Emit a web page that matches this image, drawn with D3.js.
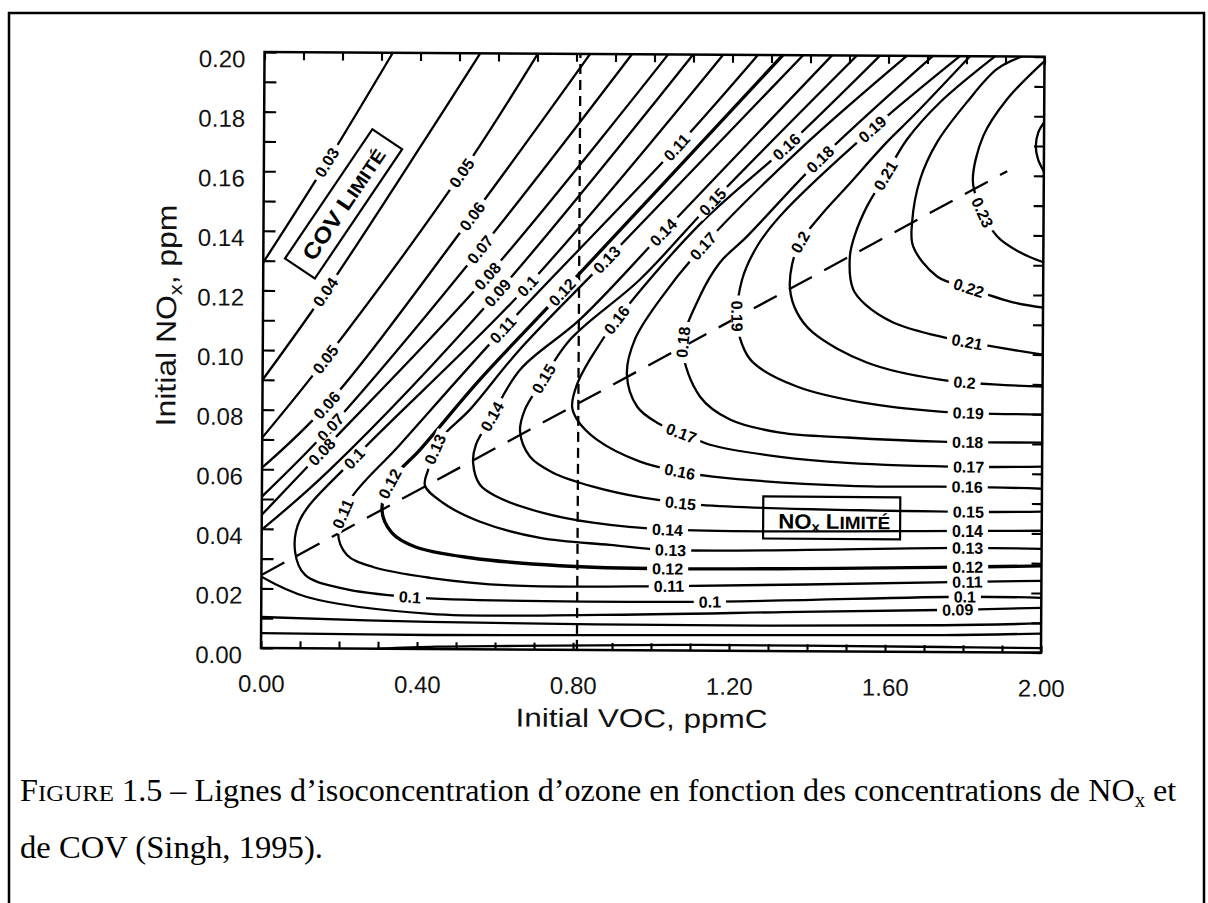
<!DOCTYPE html>
<html>
<head>
<meta charset="utf-8">
<script src="https://cdn.jsdelivr.net/npm/d3@7"></script>
<style>
  html, body { margin: 0; padding: 0; background: #fff; }
  svg { display: block; }
</style>
</head>
<body>
<svg id="fig" width="1208" height="903"></svg>
<script>
// ---- Axis tick labels ----
const vocLabelTicks = [0, 0.4, 0.8, 1.2, 1.6, 2.0];
const noxLabelTicks = [0, 0.02, 0.04, 0.06, 0.08, 0.10, 0.12, 0.14, 0.16, 0.18, 0.20];

// ---- Ozone isopleths: [initial VOC (ppmC), initial NOx (ppm)] ----
const iso003 = [[0,0.1294],[0.162,0.1632],[0.329,0.2]];
const iso004 = [[0,0.090],[0.159,0.1195],[0.418,0.172],[0.553,0.2]];
const iso005 = [[0,0.0706],[0.160,0.0969],[0.508,0.160],[0.701,0.2]];
const iso006 = [[0,0.0605],[0.166,0.0818],[0.535,0.1453],[0.835,0.2]];
const iso007 = [[0,0.0508],[0.174,0.0741],[0.556,0.1342],[0.942,0.2]];
const iso008 = [[0,0.0447],[0.153,0.066],[0.574,0.1251],[1.035,0.2]];
const iso009a = [[0,0.0397],[0.174,0.060],[0.602,0.1198],[1.099,0.2]];
const iso009b = [[0,0.0239],[0.117,0.0172],[0.433,0.0118],[0.869,0.0118],[1.382,0.0132],[1.741,0.0141],[2.0,0.0150]];
const iso010 = [[1.176,0.2],[0.677,0.1219],[0.233,0.0634],[0.098,0.0431],[0.086,0.0323],[0.112,0.0246],[0.2015,0.0203],[0.382,0.0174],[1.079,0.0163],[1.805,0.0186],[2.0,0.0184]];
const iso011 = [[1.265,0.2],[1.059,0.169],[0.616,0.1074],[0.353,0.0685],[0.226,0.0499],[0.196,0.0388],[0.219,0.0314],[0.286,0.0274],[0.432,0.0239],[0.637,0.0215],[1.055,0.0216],[1.81,0.0236],[2.0,0.0241]];
const iso012 = [[1.329,0.2],[0.766,0.1199],[0.557,0.0905],[0.405,0.0669],[0.333,0.0567],[0.308,0.0466],[0.334,0.0389],[0.393,0.0343],[0.535,0.0307],[0.765,0.0282],[1.040,0.0274],[1.81,0.0286],[2.0,0.0291]];
const iso013 = [[1.381,0.2],[0.881,0.1311],[0.659,0.1007],[0.532,0.0804],[0.456,0.0703],[0.426,0.0602],[0.418,0.0548],[0.464,0.0491],[0.560,0.0428],[0.714,0.0375],[0.893,0.0353],[1.047,0.0337],[1.81,0.035],[2.0,0.0348]];
const iso014 = [[1.455,0.2],[1.025,0.1403],[0.813,0.1109],[0.660,0.0939],[0.584,0.0771],[0.548,0.0687],[0.541,0.0626],[0.559,0.0552],[0.603,0.0512],[0.721,0.0459],[0.849,0.0427],[1.042,0.0405],[1.81,0.0407],[2.0,0.0409]];
const iso015 = [[1.519,0.2],[1.150,0.1505],[0.966,0.1244],[0.788,0.1041],[0.711,0.0889],[0.673,0.0805],[0.661,0.0731],[0.687,0.0647],[0.746,0.0594],[0.849,0.0548],[0.977,0.0512],[1.124,0.0489],[1.81,0.0471],[2.0,0.0473]];
const iso016 = [[1.578,0.2],[1.341,0.1694],[1.119,0.1431],[0.908,0.111],[0.839,0.0975],[0.806,0.089],[0.794,0.0816],[0.807,0.0773],[0.858,0.0706],[0.969,0.0633],[1.072,0.060],[1.156,0.0584],[1.508,0.0556],[1.81,0.0555],[2.0,0.055]];
const iso017 = [[1.647,0.2],[1.375,0.1685],[1.127,0.1357],[1.018,0.1178],[0.954,0.1043],[0.934,0.0925],[0.961,0.0817],[1.012,0.0764],[1.097,0.0718],[1.148,0.0691],[1.328,0.0652],[1.5,0.0633],[1.81,0.0622],[2.0,0.0624]];
const iso018 = [[1.714,0.2],[1.426,0.1651],[1.240,0.1391],[1.171,0.1303],[1.120,0.1189],[1.077,0.102],[1.122,0.0852],[1.199,0.0776],[1.328,0.0733],[1.499,0.0718],[1.738,0.0706],[2.0,0.0705]];
const iso019 = [[1.783,0.2],[1.559,0.1753],[1.324,0.1459],[1.266,0.1358],[1.228,0.1246],[1.216,0.1112],[1.229,0.1028],[1.257,0.0968],[1.370,0.0888],[1.540,0.0835],[1.737,0.0807],[2.0,0.0799]];
const iso020 = [[1.809,0.2],[1.664,0.1798],[1.597,0.171],[1.496,0.1561],[1.427,0.146],[1.376,0.1372],[1.356,0.1298],[1.351,0.1214],[1.369,0.1137],[1.41,0.107],[1.549,0.097],[1.737,0.0914],[2.0,0.0893]];
const iso021 = [[1.873,0.2],[1.733,0.1845],[1.649,0.172],[1.593,0.1596],[1.547,0.1494],[1.517,0.14],[1.504,0.1326],[1.513,0.1215],[1.544,0.1165],[1.616,0.1105],[1.736,0.1059],[2.0,0.1]];
const iso022 = [[1.942,0.2],[1.878,0.1957],[1.802,0.1846],[1.726,0.1711],[1.683,0.1586],[1.663,0.1441],[1.666,0.1361],[1.728,0.126],[1.81,0.1222],[1.923,0.1175],[2.0,0.1158]];
const iso023 = [[2.0,0.1985],[1.905,0.1857],[1.844,0.1732],[1.818,0.1587],[1.829,0.152],[1.881,0.1396],[1.94,0.1343],[2.0,0.131]];
const iso024 = [[2.0,0.178],[1.985,0.1745],[1.979,0.17],[1.985,0.1655],[2.0,0.1615]];
const isoLow1 = [[0,0.0104],[0.43,0.0091],[1.1,0.0085],[1.75,0.009],[2.0,0.0098]];
const isoLow2 = [[0,0.005],[0.43,0.0047],[1.1,0.0052],[1.75,0.0057],[2.0,0.0064]];
const isoLow3 = [[0.3,0],[0.45,0.0008],[0.66,0.0012],[1.126,0.0019],[1.75,0.0017],[2.0,0.0015]];

// Ridge separating the VOC-limited and NOx-limited regimes
const ridgeLine = [[0,0.0245],[1.906,0.1615]];
// VOC level marked by the vertical dashed line
const refVOC = 0.81;

// Isopleth labels: [ozone level (ppm), VOC, NOx] near where each label sits
const isoLabels = [
  [0.03,0.162,0.1632],
  [0.04,0.159,0.1195],
  [0.05,0.508,0.160],[0.05,0.160,0.0969],
  [0.06,0.535,0.1453],[0.06,0.166,0.0818],
  [0.07,0.556,0.1342],[0.07,0.174,0.0741],
  [0.08,0.574,0.1251],[0.08,0.153,0.066],
  [0.09,0.602,0.1198],[0.09,1.785,0.0141],
  [0.1,0.677,0.1219],[0.1,0.233,0.0641],[0.1,0.382,0.0174],[0.1,1.15,0.0164],[0.1,1.805,0.0186],
  [0.11,1.059,0.169],[0.11,0.616,0.1074],[0.11,0.2,0.0459],[0.11,1.045,0.0216],[0.11,1.81,0.0236],
  [0.12,0.766,0.1199],[0.12,0.323,0.0557],[0.12,1.04,0.0274],[0.12,1.81,0.0286],
  [0.13,0.881,0.1311],[0.13,0.443,0.0669],[0.13,1.047,0.0337],[0.13,1.81,0.035],
  [0.14,1.025,0.1403],[0.14,0.576,0.0788],[0.14,1.042,0.0405],[0.14,1.81,0.0407],
  [0.15,1.15,0.1505],[0.15,0.719,0.0913],[0.15,1.072,0.0489],[0.15,1.81,0.0471],
  [0.16,1.341,0.1694],[0.16,0.908,0.111],[0.16,1.072,0.06],[0.16,1.81,0.0555],
  [0.17,1.127,0.1357],[0.17,1.071,0.0718],[0.17,1.81,0.0622],
  [0.18,1.426,0.1651],[0.18,1.077,0.1033],[0.18,1.81,0.0706],
  [0.19,1.559,0.1753],[0.19,1.216,0.1122],[0.19,1.81,0.0803],
  [0.2,1.376,0.1372],[0.2,1.80,0.0912],
  [0.21,1.593,0.1596],[0.21,1.81,0.1058],
  [0.22,1.81,0.1222],
  [0.23,1.845,0.1477]
];

// Regime annotations: [VOC, NOx] of the box centre
const covBoxAt = [0.205, 0.1492];
const noxBoxAt = [1.46, 0.0448];

const isoPieces = [
  {level:0.03, pts:iso003}, {level:0.04, pts:iso004}, {level:0.05, pts:iso005},
  {level:0.06, pts:iso006}, {level:0.07, pts:iso007}, {level:0.08, pts:iso008},
  {level:0.09, pts:iso009a}, {level:0.09, pts:iso009b},
  {level:0.1, pts:iso010}, {level:0.11, pts:iso011}, {level:0.12, pts:iso012},
  {level:0.13, pts:iso013}, {level:0.14, pts:iso014}, {level:0.15, pts:iso015},
  {level:0.16, pts:iso016}, {level:0.17, pts:iso017}, {level:0.18, pts:iso018},
  {level:0.19, pts:iso019}, {level:0.2, pts:iso020}, {level:0.21, pts:iso021},
  {level:0.22, pts:iso022}, {level:0.23, pts:iso023}, {level:0.24, pts:iso024},
  {level:0.08, pts:isoLow1}, {level:0.06, pts:isoLow2}, {level:0.04, pts:isoLow3}
];

// ---- Drawing ----
const sans = "'Liberation Sans', Arial, Helvetica, sans-serif";
const serif = "'Liberation Serif', 'Times New Roman', Times, serif";
const svg = d3.select('#fig');

// page frame
svg.append('rect').attr('x', 9).attr('y', 13).attr('width', 1195).attr('height', 1000)
  .attr('fill', 'none').attr('stroke', '#000').attr('stroke-width', 2.5);

const x = d3.scaleLinear().domain([0, 2]).range([261, 1041]);
const y = d3.scaleLinear().domain([0, 0.2]).range([648, 52]);

// the printed plate sits very slightly tilted
const g = svg.append('g').attr('transform', 'rotate(0.34,261,648)');

g.append('defs').append('clipPath').attr('id', 'plotClip')
  .append('rect').attr('x', x(0)).attr('y', y(0.2)).attr('width', x(2) - x(0)).attr('height', y(0) - y(0.2));

function minorAxis(axis, tx, ty, size) {
  g.append('g').attr('transform', `translate(${tx},${ty})`)
    .call(axis.tickSize(size).tickFormat(''))
    .call(a => { a.select('.domain').remove(); a.selectAll('line').attr('stroke', '#000').attr('stroke-width', 2.1); });
}
minorAxis(d3.axisBottom(x).ticks(20), 0, y(0), -7);
minorAxis(d3.axisTop(x).ticks(20), 0, y(0.2), -8);
minorAxis(d3.axisLeft(y).ticks(20), x(0), 0, -12);
minorAxis(d3.axisRight(y).ticks(20), x(2), 0, -10);

// tick labels
g.append('g').attr('transform', `translate(0,${y(0)})`)
  .call(d3.axisBottom(x).tickValues(vocLabelTicks).tickSize(0).tickFormat(d3.format('.2f')))
  .attr('font-family', sans).attr('font-size', 24)
  .call(a => { a.select('.domain').remove(); a.selectAll('text').attr('y', 44).attr('dy', null).attr('fill', '#111'); });
g.append('g').attr('transform', `translate(${x(0)},0)`)
  .call(d3.axisLeft(y).tickValues(noxLabelTicks).tickSize(0).tickPadding(19).tickFormat(d3.format('.2f')))
  .attr('font-family', sans).attr('font-size', 24)
  .call(a => { a.select('.domain').remove(); a.selectAll('text').attr('dy', '0.62em').attr('fill', '#111'); });

// plot border
g.append('rect').attr('x', x(0)).attr('y', y(0.2)).attr('width', x(2) - x(0)).attr('height', y(0) - y(0.2))
  .attr('fill', 'none').attr('stroke', '#000').attr('stroke-width', 2.5);

// axis titles
function stretch(sel, target) {
  const w = sel.node().getBBox().width;
  return target / w;
}
const xt = g.append('text').attr('font-family', sans).attr('font-size', 26).attr('text-anchor', 'middle')
  .attr('fill', '#111').text('Initial VOC, ppmC');
xt.attr('transform', `translate(642,725) scale(${stretch(xt, 252)},1)`);

const yt = g.append('text').attr('font-family', sans).attr('font-size', 28).attr('text-anchor', 'middle').attr('fill', '#111');
yt.append('tspan').text('Initial NO');
yt.append('tspan').attr('font-size', 19).attr('dy', 6).text('x');
yt.append('tspan').attr('dy', -6).text(', ppm');
yt.attr('transform', `translate(174,316) rotate(-90) scale(${stretch(yt, 222)},1)`);

// isopleths
const line = d3.line().x(d => x(d[0])).y(d => y(d[1])).curve(d3.curveCatmullRom.alpha(0.5));
const cg = g.append('g').attr('clip-path', 'url(#plotClip)');
const isoPaths = cg.selectAll('path.iso').data(isoPieces).join('path')
  .attr('class', 'iso')
  .attr('d', d => line(d.pts))
  .attr('fill', 'none').attr('stroke', '#000')
  .attr('stroke-width', d => d.level === 0.12 ? 3.3 : 2.3)
  .attr('stroke-linejoin', 'round').attr('stroke-linecap', 'round');

// dashed reference lines
cg.append('line').attr('x1', x(refVOC)).attr('x2', x(refVOC)).attr('y1', y(0)).attr('y2', y(0.2))
  .attr('stroke', '#000').attr('stroke-width', 2.3).attr('stroke-dasharray', '10,6');
cg.append('path').attr('d', d3.line().x(d => x(d[0])).y(d => y(d[1]))(ridgeLine))
  .attr('fill', 'none').attr('stroke', '#000').attr('stroke-width', 2.3).attr('stroke-dasharray', '26,14');

// isopleth labels, snapped onto their line and aligned with it
const labelG = g.append('g').attr('font-family', sans).attr('font-weight', 'bold').attr('font-size', 16);
isoLabels.forEach(([lev, voc, nox]) => {
  const ax = x(voc), ay = y(nox);
  let best = null;
  isoPaths.filter(d => d.level === lev).each(function () {
    const L = this.getTotalLength();
    for (let s = 0; s <= L; s += 1.5) {
      const p = this.getPointAtLength(s);
      const dd = (p.x - ax) ** 2 + (p.y - ay) ** 2;
      if (!best || dd < best.dd) best = { dd, s, node: this, L, p };
    }
  });
  if (!best) return;
  const { node, s, L, p } = best;
  const p0 = node.getPointAtLength(Math.max(0, s - 6));
  const p1 = node.getPointAtLength(Math.min(L, s + 6));
  let ang = Math.atan2(p1.y - p0.y, p1.x - p0.x) * 180 / Math.PI;
  if (ang > 90) ang -= 180;
  if (ang <= -90) ang += 180;
  const lg = labelG.append('g').attr('transform', `translate(${p.x},${p.y}) rotate(${ang})`);
  const r = lg.append('rect').attr('fill', '#fff');
  const t = lg.append('text').attr('text-anchor', 'middle').attr('dy', '0.36em').attr('fill', '#000').text(String(lev));
  const w = t.node().getComputedTextLength();
  r.attr('x', -w / 2 - 5).attr('y', -6).attr('width', w + 10).attr('height', 12);
});

// regime boxes
const covG = g.append('g').attr('transform', `translate(${x(covBoxAt[0])},${y(covBoxAt[1])}) rotate(-56.3)`);
covG.append('rect').attr('x', -78).attr('y', -18).attr('width', 156).attr('height', 36)
  .attr('fill', 'none').attr('stroke', '#000').attr('stroke-width', 2.2);
const covT = covG.append('text').attr('font-family', sans).attr('font-weight', 'bold').attr('font-size', 22)
  .attr('text-anchor', 'middle').attr('dy', '0.36em');
covT.append('tspan').text('COV L');
covT.append('tspan').attr('font-size', 18).text('IMITÉ');
covT.attr('transform', `scale(${stretch(covT, 130)},1)`);

const noxG = g.append('g').attr('transform', `translate(${x(noxBoxAt[0])},${y(noxBoxAt[1])})`);
noxG.append('rect').attr('x', -68).attr('y', -21).attr('width', 137).attr('height', 42)
  .attr('fill', 'none').attr('stroke', '#000').attr('stroke-width', 2.2);
const noxT = noxG.append('text').attr('font-family', sans).attr('font-weight', 'bold').attr('font-size', 21)
  .attr('text-anchor', 'middle').attr('y', 11);
noxT.append('tspan').text('NO');
noxT.append('tspan').attr('font-size', 14).attr('dy', 3).text('x');
noxT.append('tspan').attr('dy', -3).text(' L');
noxT.append('tspan').attr('font-size', 18).text('IMITÉ');
noxT.attr('transform', `translate(3,0) scale(${stretch(noxT, 112)},1)`);

// caption
const cap = svg.append('g').attr('font-family', serif).attr('font-size', 31).attr('fill', '#000');
const c1 = cap.append('text').attr('x', 0).attr('y', 0);
c1.append('tspan').text('F');
c1.append('tspan').attr('font-size', 24).text('IGURE');
c1.append('tspan').text(' 1.5 – Lignes d’isoconcentration d’ozone en fonction des concentrations de NO');
c1.append('tspan').attr('font-size', 20).attr('dy', 6).text('x');
c1.append('tspan').attr('dy', -6).text(' et');
c1.attr('transform', `translate(20,801) scale(${stretch(c1, 1157)},1)`);
const c2 = cap.append('text').attr('x', 0).attr('y', 0).text('de COV (Singh, 1995).');
c2.attr('transform', `translate(20,858) scale(${stretch(c2, 303)},1)`);
</script>
</body>
</html>
